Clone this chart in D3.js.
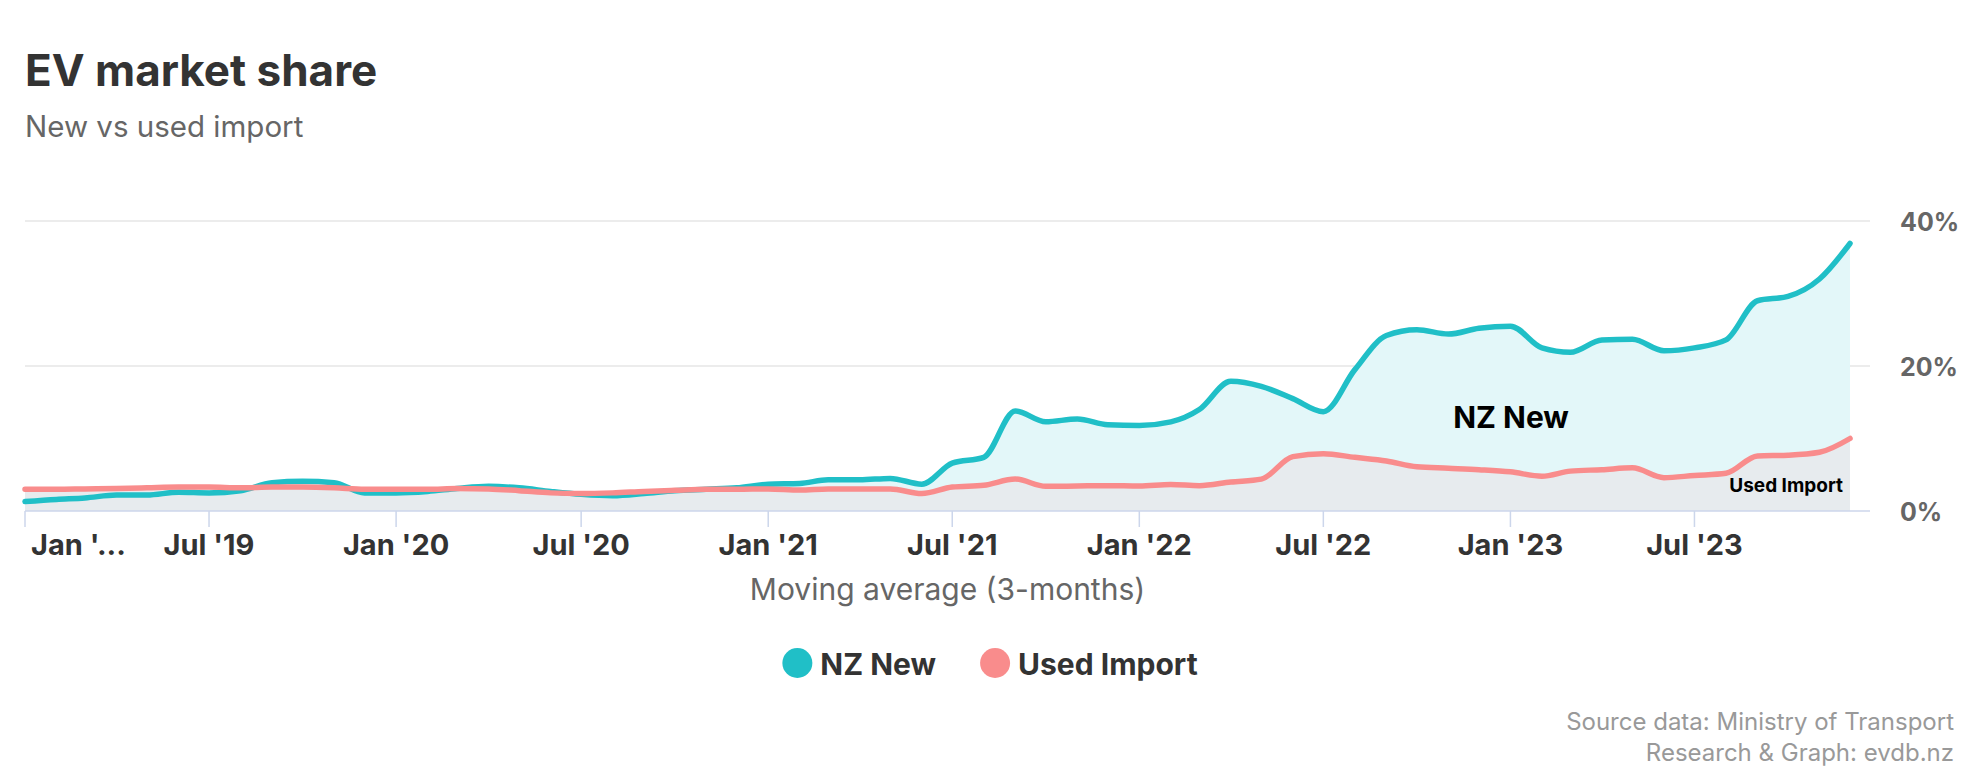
<!DOCTYPE html>
<html>
<head>
<meta charset="utf-8">
<script src="https://cdn.jsdelivr.net/npm/d3@7"></script>
<style>
  body { margin: 0; background: #fff; }
  svg { font-family: Inter, "Noto Sans", sans-serif; }
</style>
</head>
<body>
<div id="chart"></div>
<script>
const width = 1988;
const height = 780;

// monthly points, 3-month moving average (%)
const months = [
  "2019-01", "2019-02", "2019-03", "2019-04", "2019-05", "2019-06", "2019-07", "2019-08", "2019-09", "2019-10", "2019-11", "2019-12",
  "2020-01", "2020-02", "2020-03", "2020-04", "2020-05", "2020-06", "2020-07", "2020-08", "2020-09", "2020-10", "2020-11", "2020-12",
  "2021-01", "2021-02", "2021-03", "2021-04", "2021-05", "2021-06", "2021-07", "2021-08", "2021-09", "2021-10", "2021-11", "2021-12",
  "2022-01", "2022-02", "2022-03", "2022-04", "2022-05", "2022-06", "2022-07", "2022-08", "2022-09", "2022-10", "2022-11", "2022-12",
  "2023-01", "2023-02", "2023-03", "2023-04", "2023-05", "2023-06", "2023-07", "2023-08", "2023-09", "2023-10", "2023-11", "2023-12"
];
const nzNew = [
  1.3, 1.6, 1.8, 2.2, 2.2, 2.6, 2.5, 2.8, 3.9, 4.1, 3.9, 2.5,
  2.5, 2.7, 3.1, 3.4, 3.2, 2.7, 2.3, 2.1, 2.4, 2.8, 3.0, 3.2,
  3.7, 3.8, 4.3, 4.3, 4.5, 3.7, 6.6, 7.4, 13.8, 12.3, 12.7, 11.9,
  11.8, 12.3, 14.0, 17.9, 17.2, 15.5, 13.7, 19.5, 24.2, 25.0, 24.4, 25.2,
  25.5, 22.5, 21.9, 23.6, 23.7, 22.1, 22.5, 23.6, 29.0, 29.6, 32.0, 36.9
];
const usedImport = [
  3.0, 3.0, 3.05, 3.1, 3.2, 3.3, 3.3, 3.2, 3.3, 3.3, 3.2, 3.0,
  3.0, 3.0, 3.1, 3.05, 2.8, 2.5, 2.4, 2.5, 2.7, 2.85, 3.0, 3.0,
  3.05, 2.9, 3.05, 3.05, 3.05, 2.4, 3.3, 3.55, 4.4, 3.4, 3.45, 3.5,
  3.45, 3.65, 3.5, 4.0, 4.4, 7.5, 7.9, 7.4, 6.9, 6.1, 5.9, 5.7,
  5.4, 4.8, 5.5, 5.7, 5.95, 4.6, 4.9, 5.2, 7.6, 7.7, 8.1, 10.0
];
const xTicks = ["2019-01", "2019-07", "2020-01", "2020-07", "2021-01", "2021-07",
  "2022-01", "2022-07", "2023-01", "2023-07"];
const xTickLabels = ["Jan '...", "Jul '19", "Jan '20", "Jul '20", "Jan '21", "Jul '21",
  "Jan '22", "Jul '22", "Jan '23", "Jul '23"];
const yTicks = [0, 20, 40];
const seriesNames = ["NZ New", "Used Import"];

const teal = "#20bfc7";
const pink = "#f98c8c";

const plot = {left: 25, right: 1870, top: 221, bottom: 511};
const parse = d3.utcParse("%Y-%m");
const dates = months.map(parse);

const svg = d3.select("#chart").append("svg")
  .attr("width", width)
  .attr("height", height);

const x = d3.scaleUtc()
  .domain([dates[0], dates[dates.length - 1]])
  .range([plot.left, 1850]);
const y = d3.scaleLinear().domain([0, 40]).range([plot.bottom, plot.top]);

// titles
svg.append("text")
  .attr("x", 25).attr("y", 86)
  .attr("font-size", 44).attr("font-weight", 700)
  .attr("fill", "#333")
  .text("EV market share");
svg.append("text")
  .attr("x", 25).attr("y", 137)
  .attr("font-size", 29.5).attr("fill", "#666")
  .text("New vs used import");

// grid + y labels
yTicks.filter(d => d > 0).forEach(t => {
  svg.append("line")
    .attr("x1", plot.left).attr("x2", plot.right)
    .attr("y1", y(t)).attr("y2", y(t))
    .attr("stroke", "#e6e6e6").attr("stroke-width", 1.5);
});
yTicks.forEach(t => {
  svg.append("text")
    .attr("x", 1900).attr("y", y(t) + 10)
    .attr("font-size", 25).attr("font-weight", 700)
    .attr("fill", "#666")
    .text(t + "%");
});

const areaGen = d3.area()
  .x((d, i) => x(dates[i])).y0(y(0)).y1(d => y(d))
  .curve(d3.curveMonotoneX);
const lineGen = d3.line()
  .x((d, i) => x(dates[i])).y(d => y(d))
  .curve(d3.curveMonotoneX);

svg.append("path").datum(nzNew)
  .attr("d", areaGen).attr("fill", "#e3f7f9");
svg.append("path").datum(usedImport)
  .attr("d", areaGen).attr("fill", "#e7ebee");

svg.append("path").datum(nzNew)
  .attr("d", lineGen).attr("fill", "none")
  .attr("stroke", teal).attr("stroke-width", 5.5)
  .attr("stroke-linecap", "round").attr("stroke-linejoin", "round");
svg.append("path").datum(usedImport)
  .attr("d", lineGen).attr("fill", "none")
  .attr("stroke", pink).attr("stroke-width", 5.5)
  .attr("stroke-linecap", "round").attr("stroke-linejoin", "round");

// x axis
svg.append("line")
  .attr("x1", plot.left).attr("x2", plot.right)
  .attr("y1", plot.bottom).attr("y2", plot.bottom)
  .attr("stroke", "#ccd6eb").attr("stroke-width", 1.5);

xTicks.forEach((t, i) => {
  const px = x(parse(t));
  svg.append("line")
    .attr("x1", px).attr("x2", px)
    .attr("y1", plot.bottom).attr("y2", plot.bottom + 16)
    .attr("stroke", "#ccd6eb").attr("stroke-width", 1.5);
  svg.append("text")
    .attr("x", i === 0 ? px + 6 : px)
    .attr("y", 555)
    .attr("text-anchor", i === 0 ? "start" : "middle")
    .attr("font-size", 29).attr("font-weight", 700)
    .attr("fill", "#333")
    .text(xTickLabels[i]);
});

svg.append("text")
  .attr("x", (plot.left + plot.right) / 2).attr("y", 600)
  .attr("text-anchor", "middle")
  .attr("font-size", 30).attr("fill", "#666")
  .text("Moving average (3-months)");

// in-plot labels
svg.append("text")
  .attr("x", 1511).attr("y", 428)
  .attr("text-anchor", "middle")
  .attr("font-size", 30).attr("font-weight", 700)
  .attr("fill", "#000")
  .text(seriesNames[0]);
svg.append("text")
  .attr("x", 1843).attr("y", 492)
  .attr("text-anchor", "end")
  .attr("font-size", 19).attr("font-weight", 700)
  .attr("fill", "#000")
  .text(seriesNames[1]);

// legend
const legend = svg.append("g");
let lx = 0;
seriesNames.forEach((name, i) => {
  const item = legend.append("g").attr("transform", `translate(${lx},0)`);
  item.append("circle")
    .attr("cx", 15).attr("cy", -12).attr("r", 15)
    .attr("fill", i === 0 ? teal : pink);
  const txt = item.append("text")
    .attr("x", 38).attr("y", 0)
    .attr("font-size", 30).attr("font-weight", 700)
    .attr("fill", "#333")
    .text(name);
  lx += 38 + txt.node().getComputedTextLength() + 44;
});
const legendW = lx - 44;
legend.attr("transform", `translate(${width / 2 - legendW / 2 - 4},675)`);

// credits
svg.append("text")
  .attr("x", 1954).attr("y", 730)
  .attr("text-anchor", "end")
  .attr("font-size", 24).attr("fill", "#999")
  .text("Source data: Ministry of Transport");
svg.append("text")
  .attr("x", 1954).attr("y", 761)
  .attr("text-anchor", "end")
  .attr("font-size", 24).attr("fill", "#999")
  .text("Research & Graph: evdb.nz");
</script>
</body>
</html>
